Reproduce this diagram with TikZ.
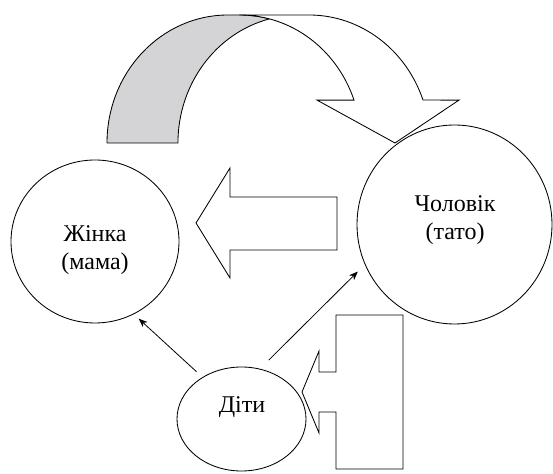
\documentclass[tikz,border=0pt]{standalone}
\usepackage{fontspec}
\setmainfont{Liberation Serif}
\newfontfamily\lblfont{Liberation Serif}
\usetikzlibrary{shapes.geometric,arrows.meta}
\definecolor{bandgray}{RGB}{212,212,214}
\begin{document}
\begin{tikzpicture}[x=1pt,y=1pt,
  line width=0.85pt,
  shapeline/.style={draw=black,line width=0.85pt,line join=miter},
  oval/.style={ellipse,draw=black,line width=0.85pt,inner sep=0pt,outer sep=0pt},
  lbl/.style={font={\lblfont\fontsize{24}{27.5}\selectfont},align=center,inner sep=0pt},
  conn/.style={-{Stealth[length=9pt,width=7pt]},line width=0.8pt},
  bandarc/.style={x radius=121,y radius=128}]
\useasboundingbox (0,0) rectangle (553,473);

% circles / ellipse
\node[oval,minimum width=168pt,minimum height=163pt] (zhinka) at (95,231.5) {};
\node[oval,minimum width=195pt,minimum height=199pt] (cholovik) at (454.5,248.5) {};
\node[oval,minimum width=129pt,minimum height=104pt] (diti) at (241.5,54) {};

% labels
\node[lbl] (zhinkatext) at (95,223) {Жінка\\(мама)};
\node[lbl] (choloviktext) at (455,253) {Чоловік\\(тато)};
\node[lbl] (dititext) at (242,66) {Діти};

% connectors
\draw[conn,shorten <=8.5pt,shorten >=7pt] (diti.133.5) -- (zhinka.-62.6);
\draw[conn,shorten <=12.7pt,shorten >=10.3pt] (diti.70.8) -- (cholovik.204.3);

% block arrow pointing left
\draw[shapeline] (196,250) -- (230,305) -- (230,276) -- (337,276) -- (337,223) -- (230,223) -- (230,195) -- cycle;

% left arrow callout near Діти
\draw[shapeline] (336,158) -- (403,158) -- (403,4) -- (336,4) -- (336,61) -- (319,61) -- (319,40) -- (302,81) -- (319,122) -- (319,101) -- (336,101) -- cycle;

% curved down arrow: back (gray) part
\filldraw[fill=bandgray,shapeline] (107,330) arc[start angle=180,end angle=90,bandarc] -- (240,458)
  arc[start angle=90,end angle=75.9,bandarc] arc[start angle=104.1,end angle=180,bandarc] -- cycle;
% curved down arrow: front (white) part
\filldraw[fill=white,shapeline] (240,458) -- (309,458) arc[start angle=90,end angle=19.6,bandarc]
  -- (459,372.9) -- (395,330) -- (317,372.9) -- (354,372.9)
  arc[start angle=19.6,end angle=90,bandarc] -- cycle;
\end{tikzpicture}
\end{document}
